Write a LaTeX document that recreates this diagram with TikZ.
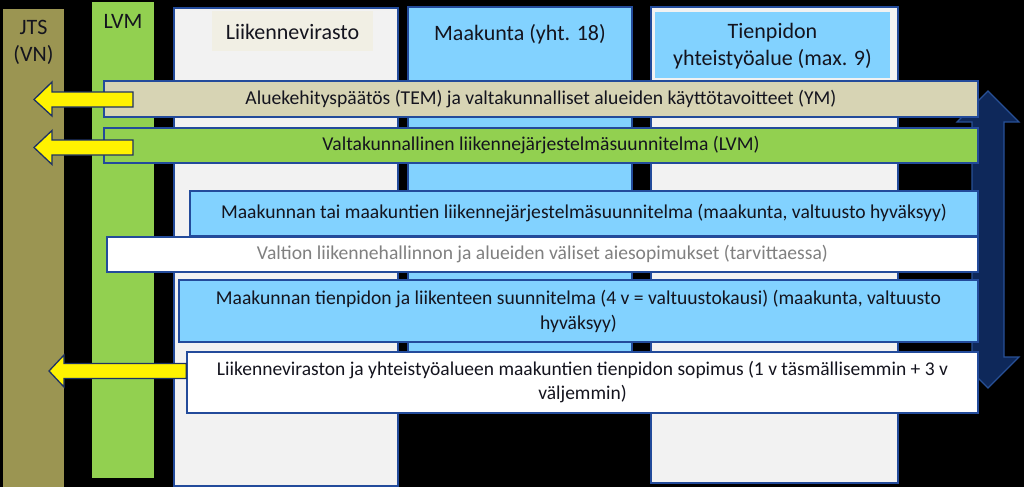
\documentclass[tikz,border=0pt]{standalone}
\usepackage{fontspec}
\setmainfont{Carlito}
\definecolor{olive}{RGB}{155,149,82}
\definecolor{lvmgreen}{RGB}{146,208,80}
\definecolor{colgray}{RGB}{242,242,242}
\definecolor{titlebeige}{RGB}{241,239,228}
\definecolor{skyblue}{RGB}{130,210,255}
\definecolor{tan}{RGB}{215,212,180}
\definecolor{bdr}{RGB}{35,75,155}
\definecolor{txt}{RGB}{20,20,30}
\definecolor{navy}{RGB}{14,40,90}
\definecolor{navyedge}{RGB}{40,80,150}
\definecolor{arrowedge}{RGB}{30,50,100}
\begin{document}
\begin{tikzpicture}[x=1pt,y=-1pt,
  colbox/.style={inner sep=0pt, line width=1.5pt},
  barbox/.style={draw=bdr, line width=1.5pt, inner sep=0pt, text=txt,
    font=\fontsize{19.6}{25}\selectfont, align=center},
  titletext/.style={inner sep=0pt, text=txt, font=\fontsize{22}{27}\selectfont, align=center},
  yarrow/.style={fill=yellow, draw=arrowedge, line width=1.3pt, line join=miter},
  bigarrow/.style={fill=navy, draw=navyedge, line width=1.2pt}
]
\fill[black] (0,0) rectangle (1024,487);
\useasboundingbox (0,0) rectangle (1024,487);

% columns
\node[colbox, fill=olive, minimum width=61pt, minimum height=478pt] (jts) at (33.5,248) {};
\node[colbox, fill=lvmgreen, minimum width=62pt, minimum height=476pt] (lvm) at (123,240) {};
\node[colbox, fill=colgray, draw=bdr, minimum width=224pt, minimum height=478pt] (liik) at (286,247) {};
\node[colbox, fill=skyblue, draw=bdr, minimum width=224pt, minimum height=388pt] (maak) at (520,201) {};
\node[colbox, fill=colgray, draw=bdr, minimum width=247pt, minimum height=476pt] (tien) at (774.5,245) {};

% column titles
\node[titletext] (jtsT) at (33.5,42) {JTS\\(VN)};
\node[titletext] (lvmT) at (123,21) {LVM};
\node[inner sep=0pt, fill=titlebeige, minimum width=161pt, minimum height=40pt] (liikBox) at (292.5,31) {};
\node[titletext] (liikT) at (292.5,32) {Liikennevirasto};
\node[titletext] (maakT) at (520,34) {Maakunta (yht. 18)};
\node[inner sep=0pt, fill=skyblue, minimum width=235pt, minimum height=66pt] (tienBox) at (772.5,45) {};
\node[titletext] (tienT) at (772.5,46) {Tienpidon\\yhteistyöalue (max. 9)};

% big double arrow on the right
\coordinate (bigTop) at (988,91);
\coordinate (bigBot) at (988,388);
\draw[bigarrow] (bigTop) -- (1019,122) -- (1004,122) -- (1004,357) -- (1019,357)
  -- (bigBot) -- (957,357) -- (972,357) -- (972,122) -- (957,122) -- cycle;

% bars
\node[barbox, fill=tan, minimum width=874pt, minimum height=36pt] (b1) at (541,99)
  {Aluekehityspäätös (TEM) ja valtakunnalliset alueiden käyttötavoitteet (YM)};
\node[barbox, fill=lvmgreen, minimum width=874pt, minimum height=35pt] (b2) at (541,145.5)
  {Valtakunnallinen liikennejärjestelmäsuunnitelma (LVM)};
\node[barbox, fill=skyblue, minimum width=788pt, minimum height=45pt] (b3) at (584,213.5)
  {Maakunnan tai maakuntien liikennejärjestelmäsuunnitelma (maakunta, valtuusto hyväksyy)};
\node[barbox, fill=white, text=gray, minimum width=871pt, minimum height=35pt] (b4) at (542.5,254.5)
  {Valtion liikennehallinnon ja alueiden väliset aiesopimukset (tarvittaessa)};
\node[barbox, fill=skyblue, minimum width=799pt, minimum height=62pt] (b5) at (578.5,311)
  {Maakunnan tienpidon ja liikenteen suunnitelma (4 v = valtuustokausi) (maakunta, valtuusto\\hyväksyy)};
\node[barbox, fill=white, font=\fontsize{19.5}{24}\selectfont, minimum width=791pt, minimum height=61pt] (b6) at (582.5,382.5)
  {Liikenneviraston ja yhteistyöalueen maakuntien tienpidon sopimus (1 v täsmällisemmin + 3 v\\väljemmin)};

% yellow arrows
\coordinate (t1) at (34,99.5);
\coordinate (t2) at (34,147.5);
\coordinate (t3) at (49,371);
\draw[yarrow] (t1) -- (52,82) -- (52,92) -- (133,92) -- (133,107) -- (52,107) -- (52,116) -- cycle;
\draw[yarrow] (t2) -- (52,130.5) -- (52,140) -- (133,140) -- (133,155) -- (52,155) -- (52,164.5) -- cycle;
\draw[yarrow] (t3) -- (64,355) -- (64,363.5) -- (b6.west |- 0,363.5) -- (b6.west |- 0,378.5) -- (64,378.5) -- (64,387) -- cycle;
\end{tikzpicture}
\end{document}
